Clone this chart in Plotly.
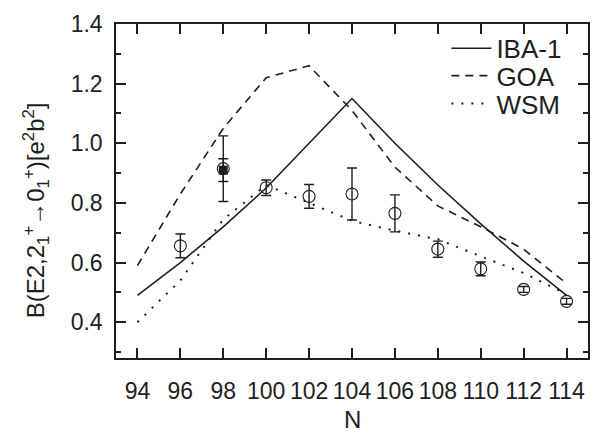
import plotly.graph_objects as go

N_even = [94, 96, 98, 100, 102, 104, 106, 108, 110, 112, 114]
iba1 = [0.49, 0.60, 0.72, 0.85, 1.00, 1.15, 1.00, 0.86, 0.73, 0.605, 0.49]
goa = [0.59, 0.83, 1.05, 1.22, 1.26, 1.11, 0.92, 0.79, 0.72, 0.645, 0.53]
wsm = [0.40, 0.54, 0.745, 0.86, 0.80, 0.74, 0.707, 0.678, 0.621, 0.565, 0.494]

exp_N = [96, 98, 100, 102, 104, 106, 108, 110, 112, 114]
exp_val = [0.656, 0.915, 0.851, 0.822, 0.830, 0.765, 0.645, 0.579, 0.510, 0.470]
exp_err = [0.040, 0.110, 0.026, 0.040, 0.087, 0.062, 0.027, 0.023, 0.010, 0.010]

alt_N = [98]
alt_val = [0.91]
alt_err = [0.038]

x_ticks = [94, 96, 98, 100, 102, 104, 106, 108, 110, 112, 114]
y_ticks = [0.4, 0.6, 0.8, 1.0, 1.2, 1.4]

INK = "#1e1e1e"
FONT = "Arial, Liberation Sans, sans-serif"

fig = go.Figure()
fig.add_trace(go.Scatter(x=N_even, y=iba1, mode="lines", name="IBA-1", legend="legend",
                         line=dict(color=INK, width=1.6)))
fig.add_trace(go.Scatter(x=N_even, y=goa, mode="lines", name="GOA", legend="legend2",
                         line=dict(color=INK, width=1.6, dash="8px,6px")))
fig.add_trace(go.Scatter(x=N_even, y=wsm, mode="lines", name="WSM", legend="legend3",
                         line=dict(color=INK, width=2, dash="2px,8px")))
fig.add_trace(go.Scatter(x=alt_N, y=alt_val, mode="markers", showlegend=False,
                         marker=dict(symbol="square", size=9, color=INK),
                         error_y=dict(type="data", array=alt_err, color=INK,
                                      thickness=1.4, width=5)))
fig.add_trace(go.Scatter(x=exp_N, y=exp_val, mode="markers", showlegend=False,
                         marker=dict(symbol="circle-open", size=12, color=INK,
                                     line=dict(width=1.1, color=INK)),
                         error_y=dict(type="data", array=exp_err, color=INK,
                                      thickness=1.4, width=5)))

axis_common = dict(showline=True, linecolor=INK, linewidth=1.5, mirror="allticks",
                   ticks="inside", tickcolor=INK, tickwidth=1.5, ticklen=10,
                   showgrid=False, zeroline=False,
                   tickfont=dict(family=FONT, size=23, color=INK))

fig.update_xaxes(range=[93, 115], tickvals=x_ticks, ticklabelstandoff=12,
                 ticktext=[str(v) for v in x_ticks], **axis_common)
fig.update_yaxes(range=[0.28, 1.4], tickvals=y_ticks, ticklabelstandoff=7,
                 ticktext=["%.1f" % v for v in y_ticks],
                 minor=dict(dtick=0.1, tick0=0.3, ticks="inside", ticklen=5,
                            tickcolor=INK, tickwidth=1.5),
                 **axis_common)

fig.add_annotation(xref="paper", yref="paper", x=-0.169, y=0.443,
                   xanchor="center", yanchor="middle",
                   text="B(E2,2<sub>1</sub><sup>+</sup>→0<sub>1</sub><sup>+</sup>)[e<sup>2</sup>b<sup>2</sup>]",
                   textangle=-90, showarrow=False,
                   font=dict(family=FONT, size=24, color=INK))
fig.add_annotation(xref="paper", yref="paper", x=0.5, y=-0.185,
                   xanchor="center", yanchor="middle", text="N",
                   showarrow=False, font=dict(family=FONT, size=24, color=INK))

leg_common = dict(xanchor="left", yanchor="middle", bgcolor="rgba(0,0,0,0)",
                  font=dict(family=FONT, size=26, color=INK), itemwidth=40)
fig.update_layout(
    width=601, height=441,
    margin=dict(l=116, r=11, t=17, b=83),
    paper_bgcolor="white", plot_bgcolor="white",
    showlegend=True,
    legend=dict(x=0.70, y=0.927, **leg_common),
    legend2=dict(x=0.70, y=0.845, **leg_common),
    legend3=dict(x=0.70, y=0.762, **leg_common),
)

fig.write_html("out.html")
